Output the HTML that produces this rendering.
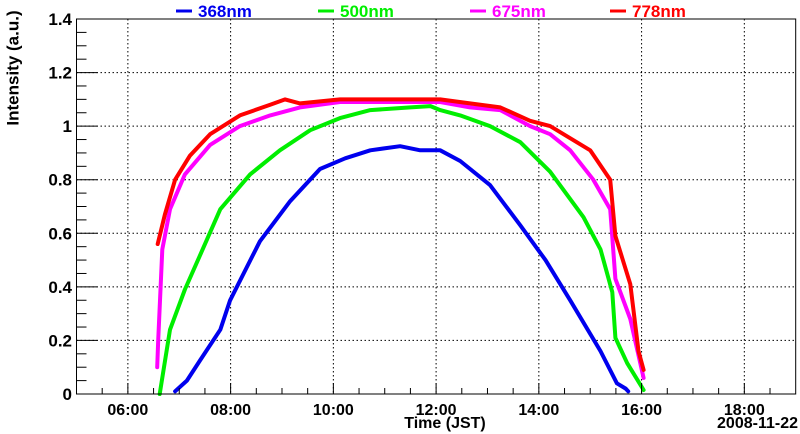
<!DOCTYPE html>
<html><head><meta charset="utf-8"><style>
html,body{margin:0;padding:0;background:#fff;}
svg{display:block;font-family:"Liberation Sans",sans-serif;font-weight:bold;}
</style></head><body>
<svg id="chart" width="800" height="434" viewBox="0 0 800 434">
<g id="grid"></g>
<g id="series"></g>
<g id="axes"></g>
<g id="legend"></g>
<text x="14" y="68" transform="rotate(-90 14 68)" text-anchor="middle" font-size="17" dominant-baseline="middle">Intensity (a.u.)</text>
<text x="445" y="428" text-anchor="middle" font-size="16">Time (JST)</text>
<text x="798" y="428" text-anchor="end" font-size="16">2008-11-22</text>
</svg>
<script>
const xTicks = [6, 8, 10, 12, 14, 16, 18];
const xTickLabels = ["06:00", "08:00", "10:00", "12:00", "14:00", "16:00", "18:00"];
const yTicks = [0, 0.2, 0.4, 0.6, 0.8, 1, 1.2, 1.4];
const yTickLabels = ["0", "0.2", "0.4", "0.6", "0.8", "1", "1.2", "1.4"];
const seriesNames = ["368nm", "500nm", "675nm", "778nm"];
const t368 = [6.92,7.15,7.41,7.8,7.99,8.57,9.16,9.74,10.23,10.72,11.3,11.69,12.08,12.47,13.05,13.64,14.13,14.61,15.2,15.52,15.69,15.74];
const v368 = [0.01,0.05,0.127,0.24,0.35,0.57,0.72,0.84,0.88,0.91,0.925,0.91,0.91,0.87,0.78,0.63,0.50,0.35,0.16,0.04,0.02,0.01];
const t500 = [6.62,6.82,7.11,7.41,7.8,8.38,8.96,9.55,10.13,10.72,11.5,11.89,12.08,12.47,13.05,13.64,14.22,14.87,15.2,15.43,15.49,15.72,16.04];
const v500 = [0.0,0.24,0.39,0.52,0.69,0.82,0.91,0.985,1.03,1.06,1.07,1.075,1.06,1.04,1.0,0.94,0.83,0.66,0.54,0.38,0.21,0.115,0.015];
const t675 = [6.57,6.59,6.67,6.82,7.11,7.6,8.18,8.77,9.35,10.13,10.91,11.69,12.08,12.66,13.25,13.83,14.22,14.61,15.06,15.39,15.49,15.78,16.04];
const v675 = [0.1,0.2,0.54,0.69,0.82,0.93,1.0,1.04,1.07,1.09,1.09,1.09,1.09,1.07,1.06,1.0,0.97,0.91,0.8,0.69,0.43,0.28,0.06];
const t778 = [6.58,6.72,6.92,7.21,7.6,8.18,8.77,9.06,9.35,10.13,10.91,11.69,12.08,12.66,13.25,13.83,14.22,15.0,15.39,15.49,15.78,15.94,16.04];
const v778 = [0.56,0.67,0.8,0.89,0.97,1.04,1.08,1.10,1.085,1.1,1.1,1.1,1.1,1.085,1.07,1.02,1.0,0.91,0.8,0.59,0.41,0.16,0.09];
const seriesColors = ["#0000ee","#00ee00","#ff00ff","#ff0000"];

const X0=76.5, X1=795.7, Y0=394, Y1=19, TMIN=5, TMAX=19, VMIN=0, VMAX=1.4;
const xs = t => X0 + (t-TMIN)/(TMAX-TMIN)*(X1-X0);
const ys = v => Y0 - (v-VMIN)/(VMAX-VMIN)*(Y0-Y1);
const NS="http://www.w3.org/2000/svg";
function mk(tag, attrs, parent){const e=document.createElementNS(NS,tag);for(const k in attrs)e.setAttribute(k,attrs[k]);parent.appendChild(e);return e;}
const grid=document.getElementById('grid'), axes=document.getElementById('axes'), ser=document.getElementById('series'), leg=document.getElementById('legend');

xTicks.forEach((t,i)=>{
  const g=mk('line',{x1:xs(t),x2:xs(t),y1:Y1,y2:Y0,stroke:'#000','stroke-width':1,'stroke-dasharray':'1.5,2.5'},grid);
  
  
  const l=mk('text',{x:xs(t),y:415,'text-anchor':'middle','font-size':16},axes);
  l.textContent=xTickLabels[i];
  
  
});
yTicks.forEach((v,i)=>{
  if(v>0&&v<1.4){
    const g=mk('line',{x1:X0,x2:X1,y1:ys(v),y2:ys(v),stroke:'#000','stroke-width':1,'stroke-dasharray':'1.5,2.5'},grid);
    
    
  }
  const l=mk('text',{x:72,y:ys(v)+6,'text-anchor':'end','font-size':17},axes);
  l.textContent=yTickLabels[i];
  
  
});
for(let t=TMIN+0.5;t<TMAX;t+=0.5){
  const major=Math.abs(t-Math.round(t))<1e-6 && Math.round(t)%2===0;
  const tk=mk('line',{x1:xs(t),x2:xs(t),y1:Y0,y2:Y0-(major?11:6),stroke:'#000','stroke-width':1},axes);
  
  
}
for(let v=0.05;v<1.4;v+=0.05){
  const major=Math.abs(v*5-Math.round(v*5))<1e-6;
  const tk=mk('line',{x1:X0,x2:X0+(major?21:10),y1:ys(v),y2:ys(v),stroke:'#000','stroke-width':1},axes);
  
  
}
const fr=mk('rect',{x:X0,y:Y1,width:X1-X0,height:Y0-Y1,fill:'none',stroke:'#000','stroke-width':1},axes);



const data=[[t368,v368],[t500,v500],[t675,v675],[t778,v778]];
data.forEach((d,i)=>{
  const pts=d[0].map((t,j)=>xs(t).toFixed(1)+','+ys(d[1][j]).toFixed(1)).join(' ');
  const p=mk('polyline',{points:pts,fill:'none',stroke:seriesColors[i],'stroke-width':4,'stroke-linejoin':'round','stroke-linecap':'round'},ser);
  
  
});
const legX=[176,318,470,610];
seriesNames.forEach((n,i)=>{
  const ln=mk('line',{x1:legX[i],x2:legX[i]+16,y1:11,y2:11,stroke:seriesColors[i],'stroke-width':3},leg);
  
  
  const tx=mk('text',{x:legX[i]+22,y:17,'font-size':17,fill:seriesColors[i]},leg);
  tx.textContent=n;
  
  
});
</script>
</body></html>
